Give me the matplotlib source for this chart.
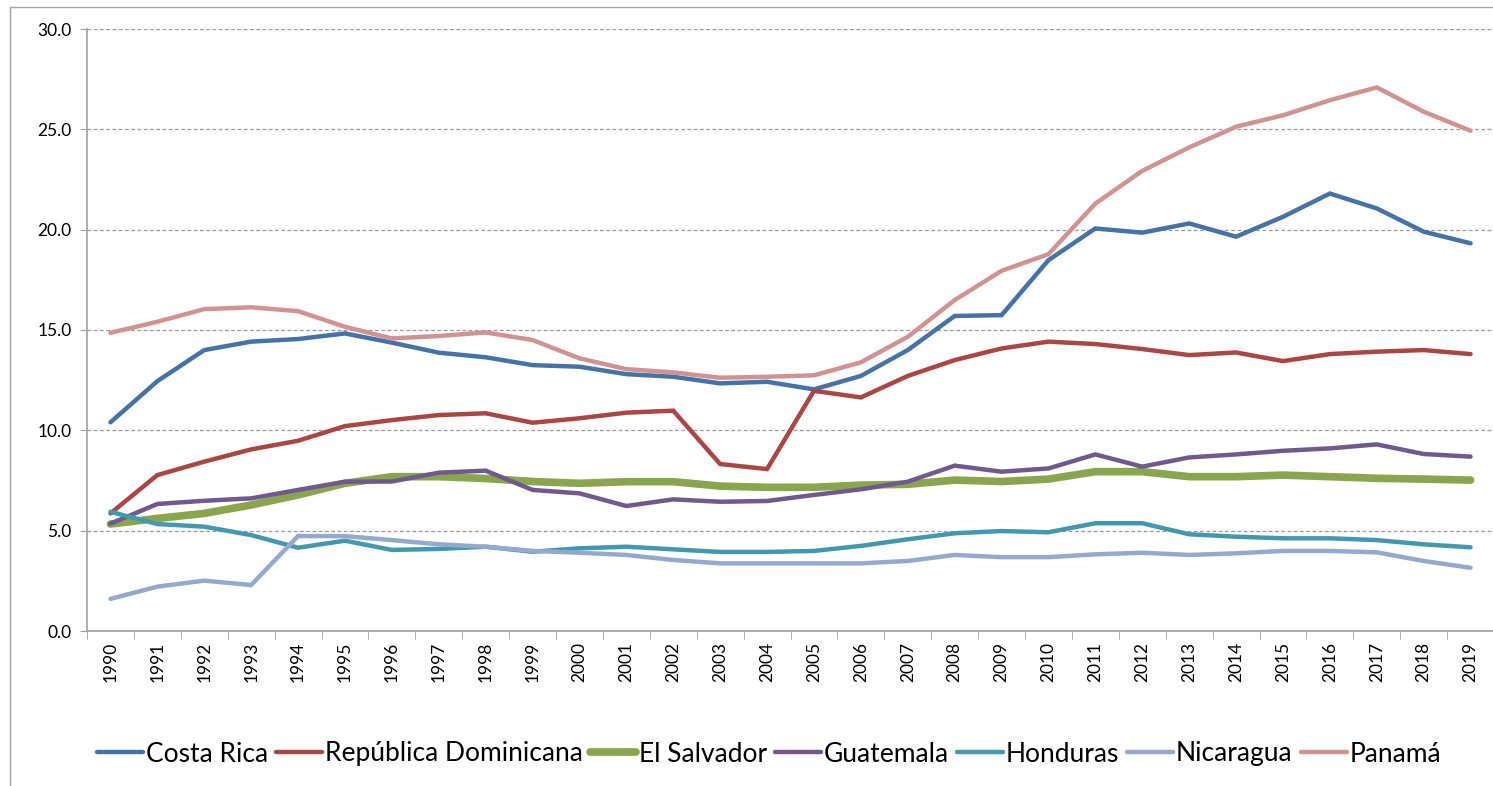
import matplotlib
matplotlib.use("Agg")
import matplotlib.pyplot as plt
from matplotlib.patches import Rectangle

# datos por pais, 1990-2019
anios = [str(a) for a in range(1990, 2020)]

costa_rica = [10.4, 12.45, 14.0, 14.42, 14.55, 14.83, 14.37, 13.87, 13.64, 13.25,
              13.17, 12.8, 12.67, 12.34, 12.42, 12.04, 12.71, 14.0, 15.7, 15.74,
              18.48, 20.06, 19.85, 20.31, 19.65, 20.64, 21.8, 21.06, 19.9, 19.32]
rep_dominicana = [5.86, 7.77, 8.44, 9.05, 9.48, 10.21, 10.51, 10.76, 10.85, 10.38,
                  10.6, 10.88, 10.98, 8.32, 8.07, 11.97, 11.64, 12.71, 13.5, 14.08,
                  14.42, 14.3, 14.05, 13.75, 13.88, 13.45, 13.8, 13.92, 14.0, 13.8]
el_salvador = [5.33, 5.61, 5.86, 6.28, 6.78, 7.36, 7.69, 7.69, 7.6, 7.45,
               7.36, 7.44, 7.44, 7.22, 7.16, 7.16, 7.27, 7.31, 7.52, 7.45,
               7.57, 7.94, 7.94, 7.69, 7.69, 7.77, 7.69, 7.61, 7.57, 7.52]
guatemala = [5.35, 6.33, 6.49, 6.61, 7.03, 7.44, 7.45, 7.89, 7.99, 7.03,
             6.86, 6.23, 6.56, 6.44, 6.48, 6.78, 7.06, 7.44, 8.24, 7.94,
             8.1, 8.8, 8.19, 8.65, 8.8, 8.98, 9.1, 9.3, 8.82, 8.69]
honduras = [5.94, 5.33, 5.2, 4.78, 4.15, 4.5, 4.04, 4.09, 4.2, 3.95,
            4.12, 4.2, 4.07, 3.94, 3.94, 3.99, 4.24, 4.57, 4.87, 4.98,
            4.92, 5.37, 5.37, 4.82, 4.7, 4.62, 4.62, 4.53, 4.32, 4.17]
nicaragua = [1.6, 2.21, 2.51, 2.29, 4.73, 4.73, 4.53, 4.32, 4.2, 3.99,
             3.9, 3.79, 3.54, 3.37, 3.37, 3.37, 3.37, 3.49, 3.79, 3.68,
             3.68, 3.82, 3.9, 3.79, 3.87, 3.99, 3.99, 3.92, 3.49, 3.15]
panama = [14.86, 15.41, 16.04, 16.13, 15.94, 15.16, 14.58, 14.7, 14.88, 14.5,
          13.59, 13.05, 12.89, 12.62, 12.67, 12.74, 13.39, 14.66, 16.49, 17.95,
          18.78, 21.3, 22.93, 24.1, 25.13, 25.7, 26.45, 27.09, 25.88, 24.93]

series = [
    ("Costa Rica", costa_rica, "#4572A7", 3.2),
    ("República Dominicana", rep_dominicana, "#AA4643", 3.2),
    ("El Salvador", el_salvador, "#89A54E", 5.5),
    ("Guatemala", guatemala, "#71588F", 3.2),
    ("Honduras", honduras, "#4198AF", 3.2),
    ("Nicaragua", nicaragua, "#93A9CF", 3.2),
    ("Panamá", panama, "#D19392", 3.2),
]

plt.rcParams['font.family'] = ['Lato', 'DejaVu Sans']

W, H = 1493, 786
fig = plt.figure(figsize=(W/100, H/100), dpi=100)
# marco del area del grafico
fig.patches.append(Rectangle((10/W, -0.1), 1.2, 1 - 7/H + 0.1, transform=fig.transFigure,
                             fill=False, edgecolor="#a6a6a6", linewidth=1.0))

ax = fig.add_axes([87/W, 1 - 631/H, (1494-87)/W, (631-29)/H])
x = list(range(len(anios)))
for nombre, vals, col, lw in series:
    ax.plot(x, vals, color=col, linewidth=lw, label=nombre, solid_capstyle='round', solid_joinstyle='miter')

ax.set_xlim(-0.5, len(anios) - 0.5)
ax.set_ylim(0, 30)
ax.set_yticks([0, 5, 10, 15, 20, 25, 30])
ax.set_yticklabels(["%.1f" % v for v in [0, 5, 10, 15, 20, 25, 30]], fontsize=12.5)
ax.set_xticks(x)
ax.set_xticklabels(anios, rotation=90, fontsize=12.5)
ax.tick_params(axis='x', length=0, pad=8)
ax.set_xticks([i - 0.5 for i in range(len(anios) + 1)], minor=True)
ax.tick_params(axis='x', which='minor', length=6, color="#a0a0a0", direction='out')
ax.tick_params(axis='y', length=5, color="#a0a0a0", pad=6)

ax.grid(axis='y', linestyle=(0, (3, 2)), color="#9a9a9a", linewidth=0.9)
ax.set_axisbelow(True)
for s in ['top', 'right']:
    ax.spines[s].set_visible(False)
for s in ['left', 'bottom']:
    ax.spines[s].set_color("#a0a0a0")
    ax.spines[s].set_linewidth(1.2)

fig.legend(loc='center', bbox_to_anchor=(0.515, 1 - 754/H), ncol=7, frameon=False,
           fontsize=19, handlelength=1.75, handletextpad=0.1, columnspacing=0.3)

fig.savefig("out.png", dpi=100)
